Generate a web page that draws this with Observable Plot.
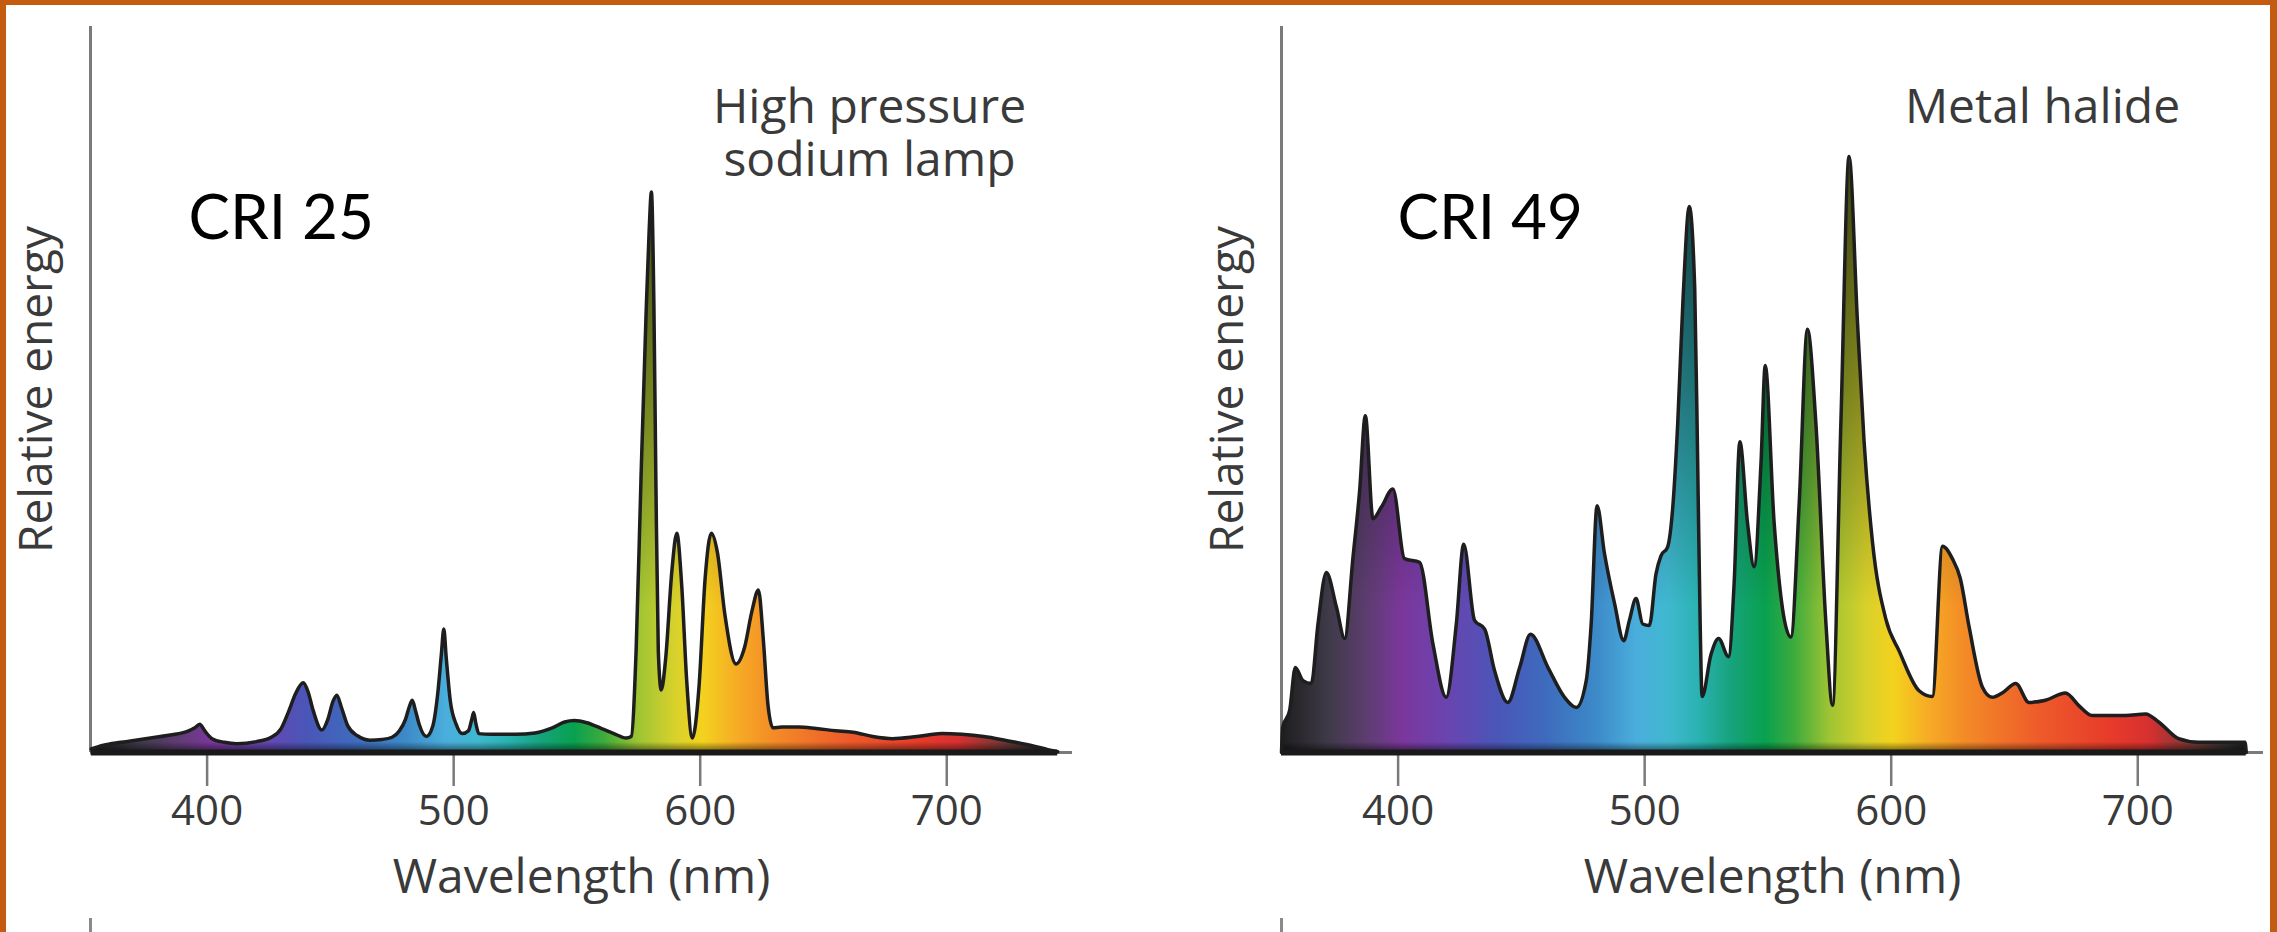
<!DOCTYPE html>
<html>
<head>
<meta charset="utf-8">
<script src="https://cdn.jsdelivr.net/npm/d3@7"></script>
<script src="https://cdn.jsdelivr.net/npm/@observablehq/plot@0.6"></script>
<style>
  html, body { margin: 0; padding: 0; background: #fff; overflow: hidden; }
  #page { position: relative; width: 2277px; height: 932px; overflow: hidden; background: #fff; }
  .panel { position: absolute; top: 0; width: 1140px; height: 932px; }
  .panel svg { max-width: none !important; width: 1140px; height: 932px; display: block; }
  .edge { position: absolute; background: #c55a11; }
  .stub { position: absolute; background: #8a8a8a; width: 3px; top: 918px; height: 14px; }
  g[aria-label="x-axis tick"], g[aria-label="x-axis"] line { color: #7a7a7a; stroke: #7a7a7a; }
  g[aria-label="x-axis tick"] { stroke-width: 2.5px; }
</style>
</head>
<body>
<div id="page">
  <div id="left" class="panel" style="left:0px"></div>
  <div id="right" class="panel" style="left:1191px"></div>
  <div class="stub" style="left:89px"></div>
  <div class="stub" style="left:1280px"></div>
  <div class="edge" style="left:0;top:0;width:6px;height:932px"></div>
  <div class="edge" style="left:0;top:0;width:2277px;height:5px"></div>
  <div class="edge" style="left:2270px;top:0;width:7px;height:932px"></div>
</div>
<script>
// ---------- data ----------
const xTicks = [400, 500, 600, 700];

// High pressure sodium lamp (relative energy, % of axis height)
const hpsWavelength = [353, 358, 365, 375, 385, 392, 395, 397, 399, 402, 407, 412, 420, 426, 430, 433, 436, 439, 441, 443, 446.5, 449, 451, 452.6, 454.5, 457, 461, 466, 471, 475, 478, 480.5, 482, 483.2, 484.5, 486, 489, 491.5, 493.5, 495, 496, 497, 498.6, 501, 503.5, 506, 507.3, 508.1, 509, 510.2, 515, 525, 533, 540, 545, 549, 554, 560, 565, 570, 572, 574, 576, 578, 579.3, 580.2, 581.2, 582, 583, 584.2, 586, 588.5, 590.5, 592.5, 594.5, 596.8, 599.5, 602, 604.5, 607, 610, 614.5, 618, 621, 623.6, 625.5, 627.5, 629.5, 633, 640, 647, 655, 662, 670, 678, 688, 698, 706, 715, 722, 728, 735, 741, 745];
const hpsEnergy = [0.5, 1.0, 1.4, 1.9, 2.4, 2.9, 3.4, 3.9, 3.0, 1.9, 1.4, 1.2, 1.5, 2.1, 3.3, 5.6, 8.2, 9.6, 8.3, 5.8, 3.1, 4.6, 7.0, 7.9, 6.2, 3.7, 2.3, 1.7, 1.8, 2.1, 3.0, 4.6, 6.3, 7.2, 5.8, 3.9, 2.2, 3.6, 8.0, 13.5, 17.0, 13.0, 7.2, 3.9, 2.6, 3.0, 4.5, 5.5, 4.0, 2.6, 2.5, 2.5, 2.7, 3.4, 4.2, 4.4, 4.1, 3.3, 2.6, 2.0, 2.2, 14, 38, 60, 72, 77.2, 62, 38, 14, 8.6, 13, 25, 30.2, 23, 10, 2.0, 9, 24, 30.2, 27.5, 19, 12.2, 14.5, 19.5, 22.4, 16, 6.5, 3.4, 3.5, 3.5, 3.3, 3.0, 2.8, 2.2, 1.9, 2.2, 2.6, 2.5, 2.2, 1.8, 1.4, 0.9, 0.4, 0.1];

// Metal halide lamp
const mhWavelength = [352.7, 353.2, 356, 358.3, 361.4, 364.8, 367.5, 370.9, 375, 378.3, 381.7, 384.4, 386.7, 389.8, 393.2, 397.9, 402.6, 408.7, 414.1, 419.5, 423.6, 426.6, 431, 435.1, 439.1, 444.5, 449.3, 453.7, 460.8, 467.5, 472.3, 476.3, 478.3, 480.7, 483.7, 487.8, 491.5, 493.8, 496.5, 499.2, 501.9, 504.6, 506.6, 509.3, 511.4, 513.4, 515.5, 518.1, 520.3, 521.5, 522.5, 523.3, 526.9, 530, 534, 536.3, 538.6, 541.7, 544.4, 547.2, 548.9, 552.5, 559.3, 562.7, 566, 569.4, 573.5, 576.2, 579.6, 582.9, 586.3, 589, 592.4, 597.8, 603.2, 611.3, 616.7, 620.8, 624.8, 628, 631.6, 637, 641, 645, 650.5, 655.9, 662.6, 670.7, 676, 681.5, 695, 703.2, 708.5, 716.6, 724.7, 743.5, 744];
const mhEnergy = [0, 3.5, 5.8, 11.7, 9.9, 9.5, 17.7, 24.8, 20.0, 15.7, 26.9, 36.1, 46.4, 32.2, 33.8, 36.3, 26.7, 26.2, 15.0, 7.6, 17.7, 28.7, 18.2, 17.0, 11.3, 6.9, 11.7, 16.3, 11.7, 7.6, 6.2, 9.9, 17.7, 34.0, 27.4, 20.5, 15.4, 18.2, 21.2, 17.7, 17.5, 24.6, 27.1, 28.3, 33.8, 45.3, 62, 75.2, 64, 40, 18, 7.7, 13.5, 15.7, 13.2, 23.4, 42.8, 31.7, 25.6, 40.0, 53.3, 31.7, 15.9, 34.5, 58.3, 45.6, 17.9, 6.5, 45.6, 82.1, 59.4, 42.8, 29.0, 18.4, 14.0, 8.5, 7.7, 28.4, 26.7, 24, 17.3, 9.0, 7.6, 8.2, 9.5, 6.9, 7.2, 8.2, 6.5, 5.1, 5.1, 5.3, 4.2, 1.9, 1.4, 1.4, 0];

// spectral colours used for the fill gradient
const spectrumWavelength = [353, 372, 388, 402, 420, 440, 460, 480, 497, 510, 522, 536, 549, 561, 575, 590, 601, 615, 630, 660, 690, 705, 722, 736, 746];
const spectrumColor = ["#1e1e1e", "#3f3a48", "#5e3d72", "#7b379c", "#6a44b0", "#4b55b8", "#3e6bbd", "#3c89c8", "#4aaedc", "#3fb8cf", "#2ab2b2", "#16a27a", "#08a14f", "#3eab3c", "#9ec433", "#d8d12b", "#f3d21e", "#f6ac25", "#f38b26", "#ee5b2a", "#e63a2a", "#d63030", "#7a3836", "#323030", "#1a1a1a"];

const panels = [
  { id: "left", gid: "hps", wl: hpsWavelength, e: hpsEnergy, cri: "CRI 25", criDx: 98,
    titleLines: ["High pressure", "sodium lamp"], titleDx: 779 },
  { id: "right", gid: "mh", wl: mhWavelength, e: mhEnergy, cri: "CRI 49", criDx: 116,
    titleLines: ["Metal halide"], titleDx: 761 }
];

const xDomain = [352.7, 751];
const ink = "#3a3a3a";
const sans = "'Open Sans', 'Noto Sans', sans-serif";

for (const p of panels) {
  const data = p.wl.map((w, i) => ({ wl: w, e: p.e[i] }));
  const curve = "monotone-x";
  const titleMarks = p.titleLines.map((line, i) =>
    Plot.text([line], { text: d => d, frameAnchor: "top-left", dx: p.titleDx, dy: 62 + i * 53,
      textAnchor: "middle", lineAnchor: "top", fontSize: 48, fill: ink, fontFamily: sans }));
  const plot = Plot.plot({
    width: 1140, height: 932,
    marginLeft: 90, marginRight: 68, marginTop: 26, marginBottom: 180,
    style: { fontFamily: sans, fontSize: "42px", color: ink, background: "transparent", overflow: "visible" },
    x: { domain: xDomain, ticks: xTicks, tickSize: 34, tickPadding: 9, tickFormat: d => String(d), label: null },
    y: { domain: [0, 100], axis: null },
    marks: [
      Plot.ruleY([0], { stroke: "#7a7a7a", strokeWidth: 3 }),
      Plot.ruleX([xDomain[0]], { stroke: "#7a7a7a", strokeWidth: 3 }),
      Plot.areaY(data, { x: "wl", y: "e", fill: `url(#${p.gid}-h)`, curve }),
      Plot.areaY(data, { x: "wl", y: "e", fill: `url(#${p.gid}-v)`, curve }),
      Plot.lineY(data, { x: "wl", y: "e", stroke: "#1e1e1e", strokeWidth: 3.5, strokeLinejoin: "round", curve }),
      Plot.ruleY([0], { x1: p.wl[0], x2: p.wl[p.wl.length - 1], stroke: "#1a1a1a", strokeWidth: 6 }),
      Plot.text(["Relative energy"], { text: d => d, frameAnchor: "left", dx: -53, rotate: -90,
        textAnchor: "middle", fontSize: 46, fill: ink, fontFamily: sans }),
      Plot.text(["Wavelength (nm)"], { text: d => d, frameAnchor: "bottom", dy: 140,
        textAnchor: "middle", fontSize: 48, fill: ink, fontFamily: sans }),
      ...titleMarks,
      Plot.text([p.cri], { text: d => d, frameAnchor: "top-left", dx: p.criDx, dy: 168,
        textAnchor: "start", fontSize: 62, fill: "#000", fontFamily: "Lato, 'Open Sans', sans-serif" })
    ]
  });

  // gradients, positioned with the plot's own scales
  const xs = plot.scale("x"), ys = plot.scale("y");
  const defs = d3.select(plot).insert("defs", ":first-child");
  const x0 = xs.apply(spectrumWavelength[0]);
  const x1 = xs.apply(spectrumWavelength[spectrumWavelength.length - 1]);
  const hg = defs.append("linearGradient").attr("id", `${p.gid}-h`)
    .attr("gradientUnits", "userSpaceOnUse").attr("x1", x0).attr("x2", x1).attr("y1", 0).attr("y2", 0);
  spectrumWavelength.forEach((w, i) => {
    hg.append("stop").attr("offset", (xs.apply(w) - x0) / (x1 - x0)).attr("stop-color", spectrumColor[i]);
  });
  const vg = defs.append("linearGradient").attr("id", `${p.gid}-v`)
    .attr("gradientUnits", "userSpaceOnUse").attr("x1", 0).attr("x2", 0)
    .attr("y1", ys.apply(0)).attr("y2", ys.apply(100));
  [[0, 0.55], [0.014, 0], [0.2, 0], [0.5, 0.35], [0.85, 0.7]].forEach(([o, a]) => {
    vg.append("stop").attr("offset", o).attr("stop-color", "#000").attr("stop-opacity", a);
  });

  document.getElementById(p.id).appendChild(plot);
}
</script>
</body>
</html>
